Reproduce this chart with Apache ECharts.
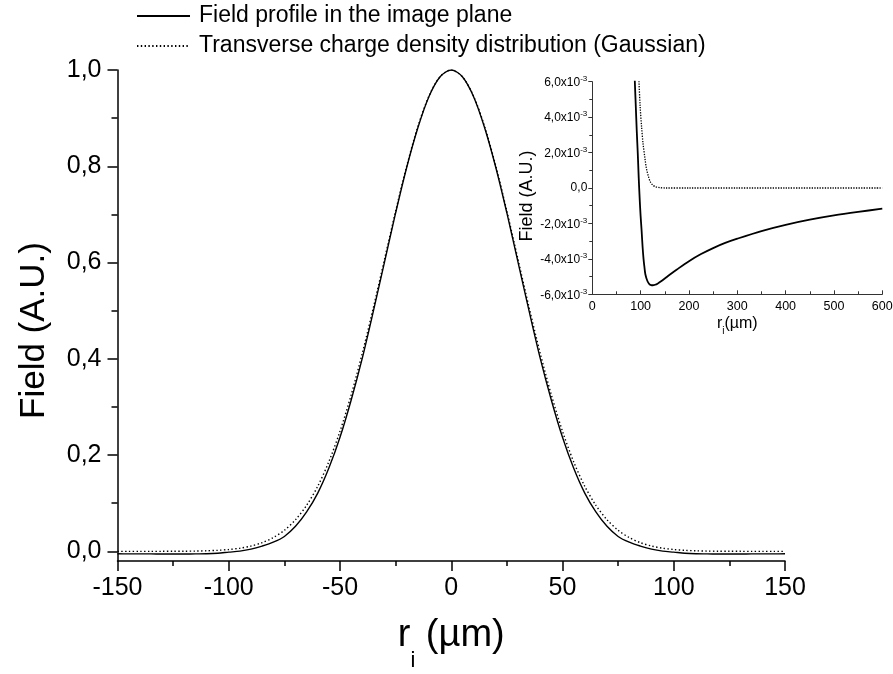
<!DOCTYPE html>
<html>
<head>
<meta charset="utf-8">
<script src="https://cdn.jsdelivr.net/npm/echarts@6/dist/echarts.min.js"></script>
<style>html,body{margin:0;padding:0;background:#fff}#c{width:893px;height:674px}</style>
</head>
<body>
<div id="c"></div>
<script>
// ---- main chart data (r_i in µm, field in A.U.) ----
const mainX = [-150,-145,-140,-135,-130,-125,-120,-115,-110,-105,-100,-95,-90,-85,-80,-75,-70,-65,-60,-55,-50,-45,-40,-35,-30,-25,-20,-15,-10,-5,0,5,10,15,20,25,30,35,40,45,50,55,60,65,70,75,80,85,90,95,100,105,110,115,120,125,130,135,140,145,150];
const fieldProfile = [-0.0050,-0.0052,-0.0053,-0.0053,-0.0054,-0.0055,-0.0054,-0.0053,-0.0049,-0.0038,-0.0016,0.0005,0.0046,0.0110,0.0190,0.0310,0.0520,0.0820,0.1210,0.1730,0.2370,0.3140,0.4010,0.4990,0.6010,0.7030,0.7980,0.8800,0.9450,0.9860,1.0000,0.9860,0.9450,0.8800,0.7980,0.7030,0.6010,0.4990,0.4010,0.3140,0.2370,0.1730,0.1210,0.0820,0.0520,0.0310,0.0190,0.0110,0.0046,0.0005,-0.0016,-0.0038,-0.0049,-0.0053,-0.0054,-0.0055,-0.0054,-0.0053,-0.0053,-0.0052,-0.0050];
const gaussian = [0.0000,0.0000,0.0000,0.0000,0.0001,0.0002,0.0003,0.0006,0.0012,0.0022,0.0039,0.0066,0.0111,0.0181,0.0286,0.0439,0.0657,0.0957,0.1353,0.1863,0.2494,0.3247,0.4111,0.5063,0.6065,0.7066,0.8007,0.8825,0.9460,0.9862,1.0000,0.9862,0.9460,0.8825,0.8007,0.7066,0.6065,0.5063,0.4111,0.3247,0.2494,0.1863,0.1353,0.0957,0.0657,0.0439,0.0286,0.0181,0.0111,0.0066,0.0039,0.0022,0.0012,0.0006,0.0003,0.0002,0.0001,0.0000,0.0000,0.0000,0.0000];
const mainYTicks = [0,0.2,0.4,0.6,0.8,1.0];
const mainYMinor = [0.1,0.3,0.5,0.7,0.9];

// ---- inset data ----
const insetFieldR = [86,88,90,92,94,96,98,100,102,104,106,108,110,114,118,122,125,130,135,140,150,160,175,200,225,250,275,300,350,400,450,500,550,600];
const insetField = [0.0075,0.0060,0.0046,0.0032,0.0020,0.0006,-0.0006,-0.0016,-0.0024,-0.0033,-0.0040,-0.0045,-0.0049,-0.00525,-0.00542,-0.00548,-0.00549,-0.00546,-0.00540,-0.00531,-0.00511,-0.00490,-0.00460,-0.00413,-0.00373,-0.00339,-0.00310,-0.00286,-0.00243,-0.00208,-0.00179,-0.00155,-0.00135,-0.00117];
const insetGaussR = [95,96.6,99,102,105,109,112,116,120,125,130,140,150,200,300,400,500,600];
const insetGauss = [0.0075,0.0060,0.0046,0.00344,0.0025,0.00166,0.0011,0.00066,0.00035,0.00017,0.00008,0.00002,0,0,0,0,0,0];

const legendNames = ['Field profile in the image plane','Transverse charge density distribution (Gaussian)'];
const FONT = 'Arial, "Liberation Sans", sans-serif';

function pairs(xs, ys){ return xs.map((x,i)=>[x, ys[i]]); }

const chart = echarts.init(document.getElementById('c'), null, {renderer:'canvas'});
chart.setOption({
  animation:false,
  backgroundColor:'#fff',
  textStyle:{fontFamily:FONT, color:'#000'},
  legend:{
    data:legendNames, orient:'vertical', left:131, top:-1,
    itemWidth:53, itemHeight:14, itemGap:6,
    itemStyle:{opacity:0},
    textStyle:{fontSize:23, lineHeight:24, fontFamily:FONT, color:'#000', padding:[0,0,0,4]}
  },
  grid:[
    {left:117.5, right:108, top:70, bottom:113, containLabel:false, outerBoundsMode:'none'},
    {left:592.3, right:10.7, top:81.7, bottom:379.7, containLabel:false, outerBoundsMode:'none'}
  ],
  xAxis:[
    {gridIndex:0, type:'value', min:-150, max:150, interval:50,
     axisLine:{show:true, onZero:false, lineStyle:{color:'#000', width:1.5}},
     axisTick:{show:true, inside:false, length:10, lineStyle:{color:'#000', width:1.5}},
     minorTick:{show:true, splitNumber:2, length:5, lineStyle:{color:'#000', width:1.5}},
     splitLine:{show:false},
     axisLabel:{fontSize:25, color:'#000', fontFamily:FONT, margin:15},
     name:'{a|r}{s|i}{a| (µm)}', nameLocation:'middle', nameGap:56,
     nameTextStyle:{rich:{
       a:{fontSize:38, fontFamily:FONT, color:'#000', verticalAlign:'bottom', padding:[0,0,17,0]},
       s:{fontSize:22, fontFamily:FONT, color:'#000', verticalAlign:'bottom'}
     }}
    },
    {gridIndex:1, type:'value', min:0, max:600, interval:100,
     axisLine:{show:true, onZero:false, lineStyle:{color:'#333', width:1}},
     axisTick:{show:true, inside:true, length:4, lineStyle:{color:'#333'}},
     minorTick:{show:true, splitNumber:2, length:3, lineStyle:{color:'#333'}},
     splitLine:{show:false},
     axisLabel:{fontSize:12.5, color:'#000', fontFamily:FONT, margin:6, showMaxLabel:true},
     name:'{a|r}{s|i}{a|(µm)}', nameLocation:'middle', nameGap:21,
     nameTextStyle:{rich:{
       a:{fontSize:16, fontFamily:FONT, color:'#000', verticalAlign:'bottom', padding:[0,0,5,0]},
       s:{fontSize:10, fontFamily:FONT, color:'#000', verticalAlign:'bottom'}
     }}
    }
  ],
  yAxis:[
    {gridIndex:0, type:'value', min:-0.02, max:1.0, position:'left',
     axisLine:{show:true, onZero:false, lineStyle:{color:'#000', width:1.5}},
     axisTick:{show:true, inside:false, length:10, customValues:mainYTicks, lineStyle:{color:'#000', width:1.5}},
     splitLine:{show:false},
     axisLabel:{fontSize:25, color:'#000', fontFamily:FONT, margin:16, customValues:mainYTicks,
       formatter:v=>v.toFixed(1).replace('.',',')},
     name:'Field (A.U.)', nameLocation:'middle', nameGap:66,
     nameTextStyle:{fontSize:35, fontFamily:FONT, color:'#000', padding:[0,30,0,0]}
    },
    {gridIndex:0, type:'value', min:-0.02, max:1.0, position:'left', offset:0,
     axisLine:{show:false, onZero:false},
     axisTick:{show:true, inside:false, length:6, customValues:mainYMinor, lineStyle:{color:'#000', width:1.5}},
     splitLine:{show:false},
     axisLabel:{show:false}
    },
    {gridIndex:1, type:'value', min:-0.006, max:0.006, interval:0.002,
     axisLine:{show:true, onZero:false, lineStyle:{color:'#333', width:1}},
     axisTick:{show:true, inside:false, length:4, lineStyle:{color:'#333'}},
     minorTick:{show:true, splitNumber:2, length:3, lineStyle:{color:'#333'}},
     splitLine:{show:false},
     axisLabel:{fontSize:12, color:'#000', fontFamily:FONT, margin:5,
       formatter:v=>{
         if (Math.abs(v) < 1e-9) return '{n|0,0}';
         return '{n|' + (v*1000).toFixed(1).replace('.',',') + 'x10}{p|-3}';
       },
       rich:{n:{fontSize:12, fontFamily:FONT, color:'#000', verticalAlign:'bottom'},
             p:{fontSize:8, fontFamily:FONT, color:'#000', verticalAlign:'bottom', padding:[0,0,6,0]}}
     },
     name:'Field (A.U.)', nameLocation:'middle', nameGap:56,
     nameTextStyle:{fontSize:18, fontFamily:FONT, color:'#000', padding:[0,16,0,0]}
    }
  ],
  series:[
    {name:legendNames[0], type:'line', xAxisIndex:0, yAxisIndex:0, data:pairs(mainX, fieldProfile),
     showSymbol:false, symbol:'none', smooth:0.3, lineStyle:{color:'#000', width:1.4}, itemStyle:{color:'#000'}},
    {name:legendNames[1], type:'line', xAxisIndex:0, yAxisIndex:0, data:pairs(mainX, gaussian),
     showSymbol:false, symbol:'none', smooth:0.3, lineStyle:{color:'#000', width:1.4, type:[1.4,2.4]}, itemStyle:{color:'#000'}},
    {name:'inset field', type:'line', xAxisIndex:1, yAxisIndex:2, data:pairs(insetFieldR, insetField),
     showSymbol:false, symbol:'none', smooth:0.3, clip:true, lineStyle:{color:'#000', width:1.8}},
    {name:'inset gauss', type:'line', xAxisIndex:1, yAxisIndex:2, data:pairs(insetGaussR, insetGauss),
     showSymbol:false, symbol:'none', smooth:0.3, clip:true, lineStyle:{color:'#000', width:1.3, type:[1.3,1.3]}}
  ]
});
</script>
</body>
</html>
